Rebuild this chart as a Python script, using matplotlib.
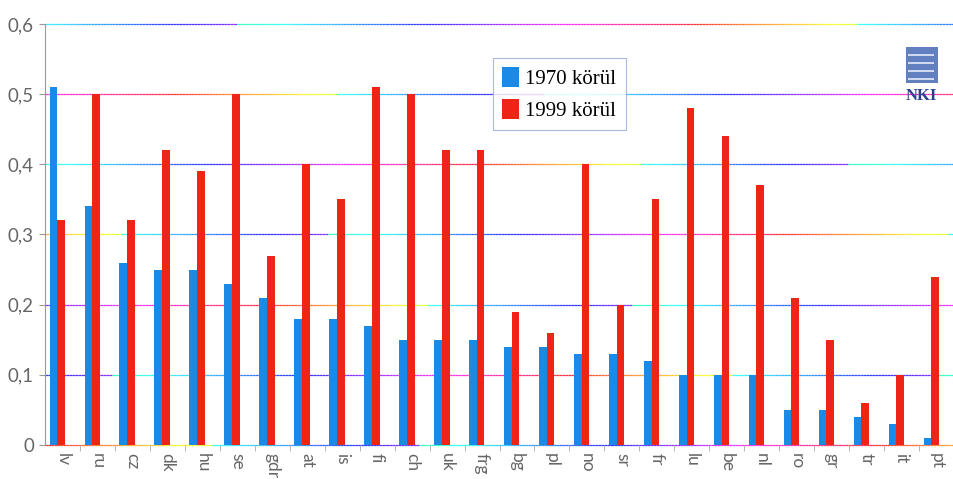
import numpy as np
import matplotlib
matplotlib.use("Agg")
import matplotlib.pyplot as plt
from matplotlib.collections import LineCollection
from matplotlib.patches import Patch, Rectangle
import matplotlib.transforms as mtransforms

# country codes along the x axis
countries = ["lv", "ru", "cz", "dk", "hu", "se", "gdr", "at", "is", "fi",
             "ch", "uk", "frg", "bg", "pl", "no", "sr", "fr", "lu", "be",
             "nl", "ro", "gr", "tr", "it", "pt"]
around_1970 = [0.51, 0.34, 0.26, 0.25, 0.25, 0.23, 0.21, 0.18, 0.18, 0.17,
               0.15, 0.15, 0.15, 0.14, 0.14, 0.13, 0.13, 0.12, 0.10, 0.10,
               0.10, 0.05, 0.05, 0.04, 0.03, 0.01]
around_1999 = [0.32, 0.50, 0.32, 0.42, 0.39, 0.50, 0.27, 0.40, 0.35, 0.51,
               0.50, 0.42, 0.42, 0.19, 0.16, 0.40, 0.20, 0.35, 0.48, 0.44,
               0.37, 0.21, 0.15, 0.06, 0.10, 0.24]
y_ticks = [0, 0.1, 0.2, 0.3, 0.4, 0.5, 0.6]
y_labels = ["0", "0,1", "0,2", "0,3", "0,4", "0,5", "0,6"]

BLUE = "#1a8ae6"
RED = "#ee2416"

fig = plt.figure(figsize=(9.54, 4.79), dpi=100)
ax = fig.add_axes([45 / 954, 1 - 445 / 479, 1 - 45 / 954, 421 / 479])

x = np.arange(len(countries))
w = 0.22
ax.bar(x - 0.26, around_1970, width=w, color=BLUE, zorder=3)
ax.bar(x - 0.04, around_1999, width=w, color=RED, zorder=3)

ax.set_xlim(-0.5, 25.32)
ax.set_ylim(0, 0.6)

# rainbow-ish grid lines, like the scanned original
trans = mtransforms.blended_transform_factory(ax.transAxes, ax.transData)
xs = np.linspace(0, 1, 300)
cmap = plt.get_cmap("hsv")
for i, yv in enumerate(y_ticks):
    pts = np.column_stack([xs, np.full_like(xs, yv)])
    segs = np.stack([pts[:-1], pts[1:]], axis=1)
    hue = (xs[:-1] * 1.1 + i * 0.37) % 1.0
    # keep away from green, the scan shows red/yellow/cyan/blue/magenta
    hue = np.where((hue > 0.2) & (hue < 0.45), hue + 0.3, hue)
    cols = cmap(hue)
    cols[:, :3] = cols[:, :3] * 0.8 + 0.2
    lc = LineCollection(segs, colors=cols, linewidths=0.9,
                        transform=trans, zorder=1, clip_on=False)
    ax.add_collection(lc)

ax.set_yticks(y_ticks)
ax.set_yticklabels(y_labels, fontsize=13.5, color="#666666", family="Lato")
ax.set_xticks(x)
ax.set_xticklabels(countries, rotation=-90, fontsize=12.5, color="#666666",
                   family="Lato")
ax.tick_params(axis="x", length=0, pad=6)
ax.tick_params(axis="y", length=4, color="#999999", pad=4)
ax.set_xticks(np.arange(len(countries)) + 0.5, minor=True)
ax.tick_params(axis="x", which="minor", length=4, color="#aaaaaa")

for s in ["top", "right", "bottom"]:
    ax.spines[s].set_visible(False)
ax.spines["left"].set_color("#999999")
ax.spines["left"].set_linewidth(0.8)

handles = [Patch(facecolor=BLUE, label="1970 körül"),
           Patch(facecolor=RED, label="1999 körül")]
leg = ax.legend(handles=handles, loc="upper left",
                bbox_to_anchor=(448 / 909, 1 - 34 / 421),
                prop={"family": "Liberation Serif", "size": 15},
                frameon=True, fancybox=False, handlelength=0.8,
                handleheight=1.1, handletextpad=0.3, borderpad=0.45,
                labelspacing=0.45, borderaxespad=0)
leg.get_frame().set_edgecolor("#9aa6d8")
leg.get_frame().set_linewidth(0.8)
leg.set_zorder(5)

# small NKI logo at top right
fig.patches.append(Rectangle((906 / 954, 1 - 83 / 479), 32 / 954, 36 / 479,
                             transform=fig.transFigure, facecolor="#3b5fb0",
                             edgecolor="none", alpha=0.8))
for k in range(4):
    fig.patches.append(Rectangle((908 / 954, 1 - (80 - k * 8) / 479),
                                 26 / 954, 2 / 479, transform=fig.transFigure,
                                 facecolor="#cfd8f0", edgecolor="none"))
fig.text(921 / 954, 1 - 96 / 479, "NKI", family="Liberation Serif",
         fontsize=12, color="#2a3f8f", ha="center", va="center",
         fontweight="bold")

fig.savefig("out.png", dpi=100)
